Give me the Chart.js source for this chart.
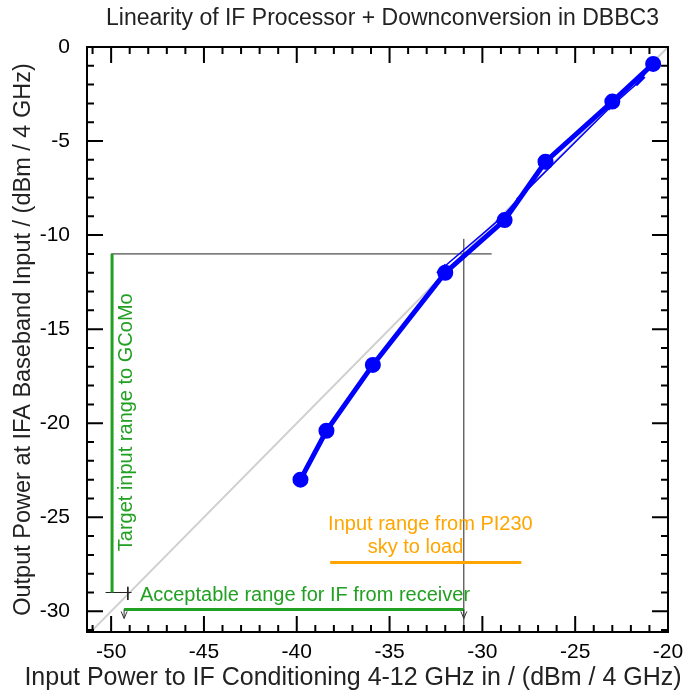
<!DOCTYPE html>
<html>
<head>
<meta charset="utf-8">
<script src="https://cdn.jsdelivr.net/npm/chart.js@4.4.0/dist/chart.umd.min.js"></script>
<style>
  html, body { margin: 0; padding: 0; background: #fff; }
</style>
</head>
<body>
<canvas id="chart" width="691" height="693"></canvas>
<script>
// measured: input power to IF conditioning vs output at IFA baseband (dBm / 4 GHz)
const inputPower = [-39.8, -38.4, -35.9, -32.0, -28.8, -26.6, -23.0, -20.8];
const outputPower = [-23.0, -20.4, -16.9, -12.0, -9.2, -6.1, -2.9, -0.9];
// second sweep (thin line)
const inputPower2 = [-32.2, -29.0, -27.9, -23.0, -21.5, -20.8];
const outputPower2 = [-11.8, -9.1, -7.9, -3.1, -1.8, -0.8];
// ideal 20 dB gain line
const idealX = [-51, -20];
const idealY = [-31, 0];
// operating point crosshair
const crossHX = [-50, -29.5], crossHY = [-11, -11];
const crossVX = [-31, -31], crossVY = [-31.1, -10.2];
// target range for GCoMo (vertical green)
const targetX = [-49.95, -49.95], targetY = [-11, -29];
// acceptable receiver range (horizontal green)
const acceptX = [-49.3, -31], acceptY = [-29.9, -29.9];
// PI230 sky-to-load range (orange)
const piX = [-38.2, -27.9], piY = [-27.4, -27.4];
// small black cross
const markHX = [-50.3, -48.9], markHY = [-29, -29];
const markVX = [-49.1, -49.1], markVY = [-28.7, -29.4];

const xTicks = [-50, -45, -40, -35, -30, -25, -20];
const yTicks = [0, -5, -10, -15, -20, -25, -30];

const GREEN = '#22a022';
const ORANGE = '#ffa500';
const BLUE = '#0000ff';
const FONT = 'Liberation Sans, Arial, Helvetica, sans-serif';

function pts(xs, ys) {
  return xs.map((x, i) => ({ x: x, y: ys[i] }));
}
function seg(xs, ys, color, width, order) {
  return { data: pts(xs, ys), borderColor: color, borderWidth: width, pointRadius: 0, showLine: true, fill: false, order: order };
}

const framePlugin = {
  id: 'frame',
  afterDraw(chart) {
    const { ctx, chartArea: a, scales: { x, y } } = chart;
    ctx.save();
    // title + x axis title
    ctx.fillStyle = '#222';
    ctx.font = '23px ' + FONT;
    ctx.textAlign = 'center';
    ctx.textBaseline = 'middle';
    ctx.fillText('Linearity of IF Processor + Downconversion in DBBC3', (a.left + a.right) / 2 + 5, 19);
    ctx.font = '25px ' + FONT;
    ctx.fillText('Input Power to IF Conditioning 4-12 GHz in / (dBm / 4 GHz)', 353, 678);

    // annotation texts
    ctx.font = '20px ' + FONT;
    ctx.fillStyle = GREEN;
    ctx.textAlign = 'left';
    ctx.fillText('Acceptable range for IF from receiver', x.getPixelForValue(-48.45), y.getPixelForValue(-29.15));
    ctx.save();
    ctx.translate(x.getPixelForValue(-49.15), y.getPixelForValue(-19.95));
    ctx.rotate(-Math.PI / 2);
    ctx.textAlign = 'center';
    ctx.fillText('Target input range to GCoMo', 0, 0);
    ctx.restore();
    ctx.fillStyle = ORANGE;
    ctx.textAlign = 'center';
    ctx.fillText('Input range from PI230', x.getPixelForValue(-32.8), y.getPixelForValue(-25.4));
    ctx.fillText('sky to load', x.getPixelForValue(-33.6), y.getPixelForValue(-26.6));

    // arrow heads on acceptable range
    ctx.strokeStyle = '#333';
    ctx.lineWidth = 1;
    acceptX.forEach(v => {
      const px = x.getPixelForValue(v), py = y.getPixelForValue(acceptY[0]);
      ctx.beginPath();
      ctx.moveTo(px - 3, py + 2);
      ctx.lineTo(px, py + 9);
      ctx.lineTo(px + 3, py + 2);
      ctx.moveTo(px, py);
      ctx.lineTo(px, py + 9);
      ctx.stroke();
    });

    // frame
    ctx.strokeStyle = '#000';
    ctx.lineWidth = 2;
    ctx.strokeRect(a.left, a.top, a.right - a.left, a.bottom - a.top);
    // inward ticks on all four sides
    ctx.beginPath();
    for (let v = Math.ceil(x.min); v <= Math.floor(x.max); v++) {
      const len = v % 5 === 0 ? 16 : 7;
      const px = x.getPixelForValue(v);
      ctx.moveTo(px, a.bottom); ctx.lineTo(px, a.bottom - len);
      ctx.moveTo(px, a.top); ctx.lineTo(px, a.top + len);
    }
    for (let v = Math.ceil(y.min); v <= Math.floor(y.max); v++) {
      const len = v % 5 === 0 ? 16 : 7;
      const py = y.getPixelForValue(v);
      ctx.moveTo(a.left, py); ctx.lineTo(a.left + len, py);
      ctx.moveTo(a.right, py); ctx.lineTo(a.right - len, py);
    }
    ctx.stroke();
    ctx.restore();
  }
};

new Chart(document.getElementById('chart'), {
  type: 'scatter',
  data: {
    datasets: [
      { data: pts(inputPower, outputPower), borderColor: BLUE, backgroundColor: BLUE, borderWidth: 5,
        pointRadius: 5.5, pointHoverRadius: 5.5, showLine: true, order: 1 },
      { data: pts(inputPower2, outputPower2), borderColor: BLUE, backgroundColor: BLUE, borderWidth: 1.5,
        pointStyle: 'line', pointRadius: 6, pointBorderWidth: 3, rotation: -45, showLine: true, order: 2 },
      seg(crossHX, crossHY, '#222', 1, 5),
      seg(crossVX, crossVY, '#222', 1, 5),
      seg(targetX, targetY, GREEN, 3, 4),
      seg(acceptX, acceptY, GREEN, 3, 4),
      seg(piX, piY, ORANGE, 3, 4),
      seg(markHX, markHY, '#222', 1, 4),
      seg(markVX, markVY, '#222', 1, 4),
      seg(idealX, idealY, '#cfcfcf', 2, 9)
    ]
  },
  options: {
    responsive: false,
    animation: false,
    devicePixelRatio: 1,
    layout: { padding: { top: 47, right: 23, left: 0, bottom: 0 } },
    plugins: { legend: { display: false }, tooltip: { enabled: false } },
    scales: {
      x: {
        type: 'linear', min: -51.3, max: -20,
        grid: { display: false }, border: { display: false },
        afterBuildTicks: s => { s.ticks = xTicks.map(v => ({ value: v })); },
        afterFit: s => { s.height = 61; },
        ticks: { color: '#000', font: { family: FONT, size: 21 }, padding: 0, autoSkip: false, maxRotation: 0 }
      },
      y: {
        type: 'linear', min: -31.1, max: 0,
        grid: { display: false }, border: { display: false },
        afterBuildTicks: s => { s.ticks = yTicks.map(v => ({ value: v })); },
        afterFit: s => { s.width = 87; },
        ticks: { color: '#000', font: { family: FONT, size: 21 }, padding: 9, autoSkip: false },
        title: { display: true, text: 'Output Power at IFA Baseband Input / (dBm / 4 GHz)',
          color: '#222', font: { family: FONT, size: 23.5 }, padding: { top: 9, bottom: 0 } }
      }
    }
  },
  plugins: [framePlugin]
});
</script>
</body>
</html>
